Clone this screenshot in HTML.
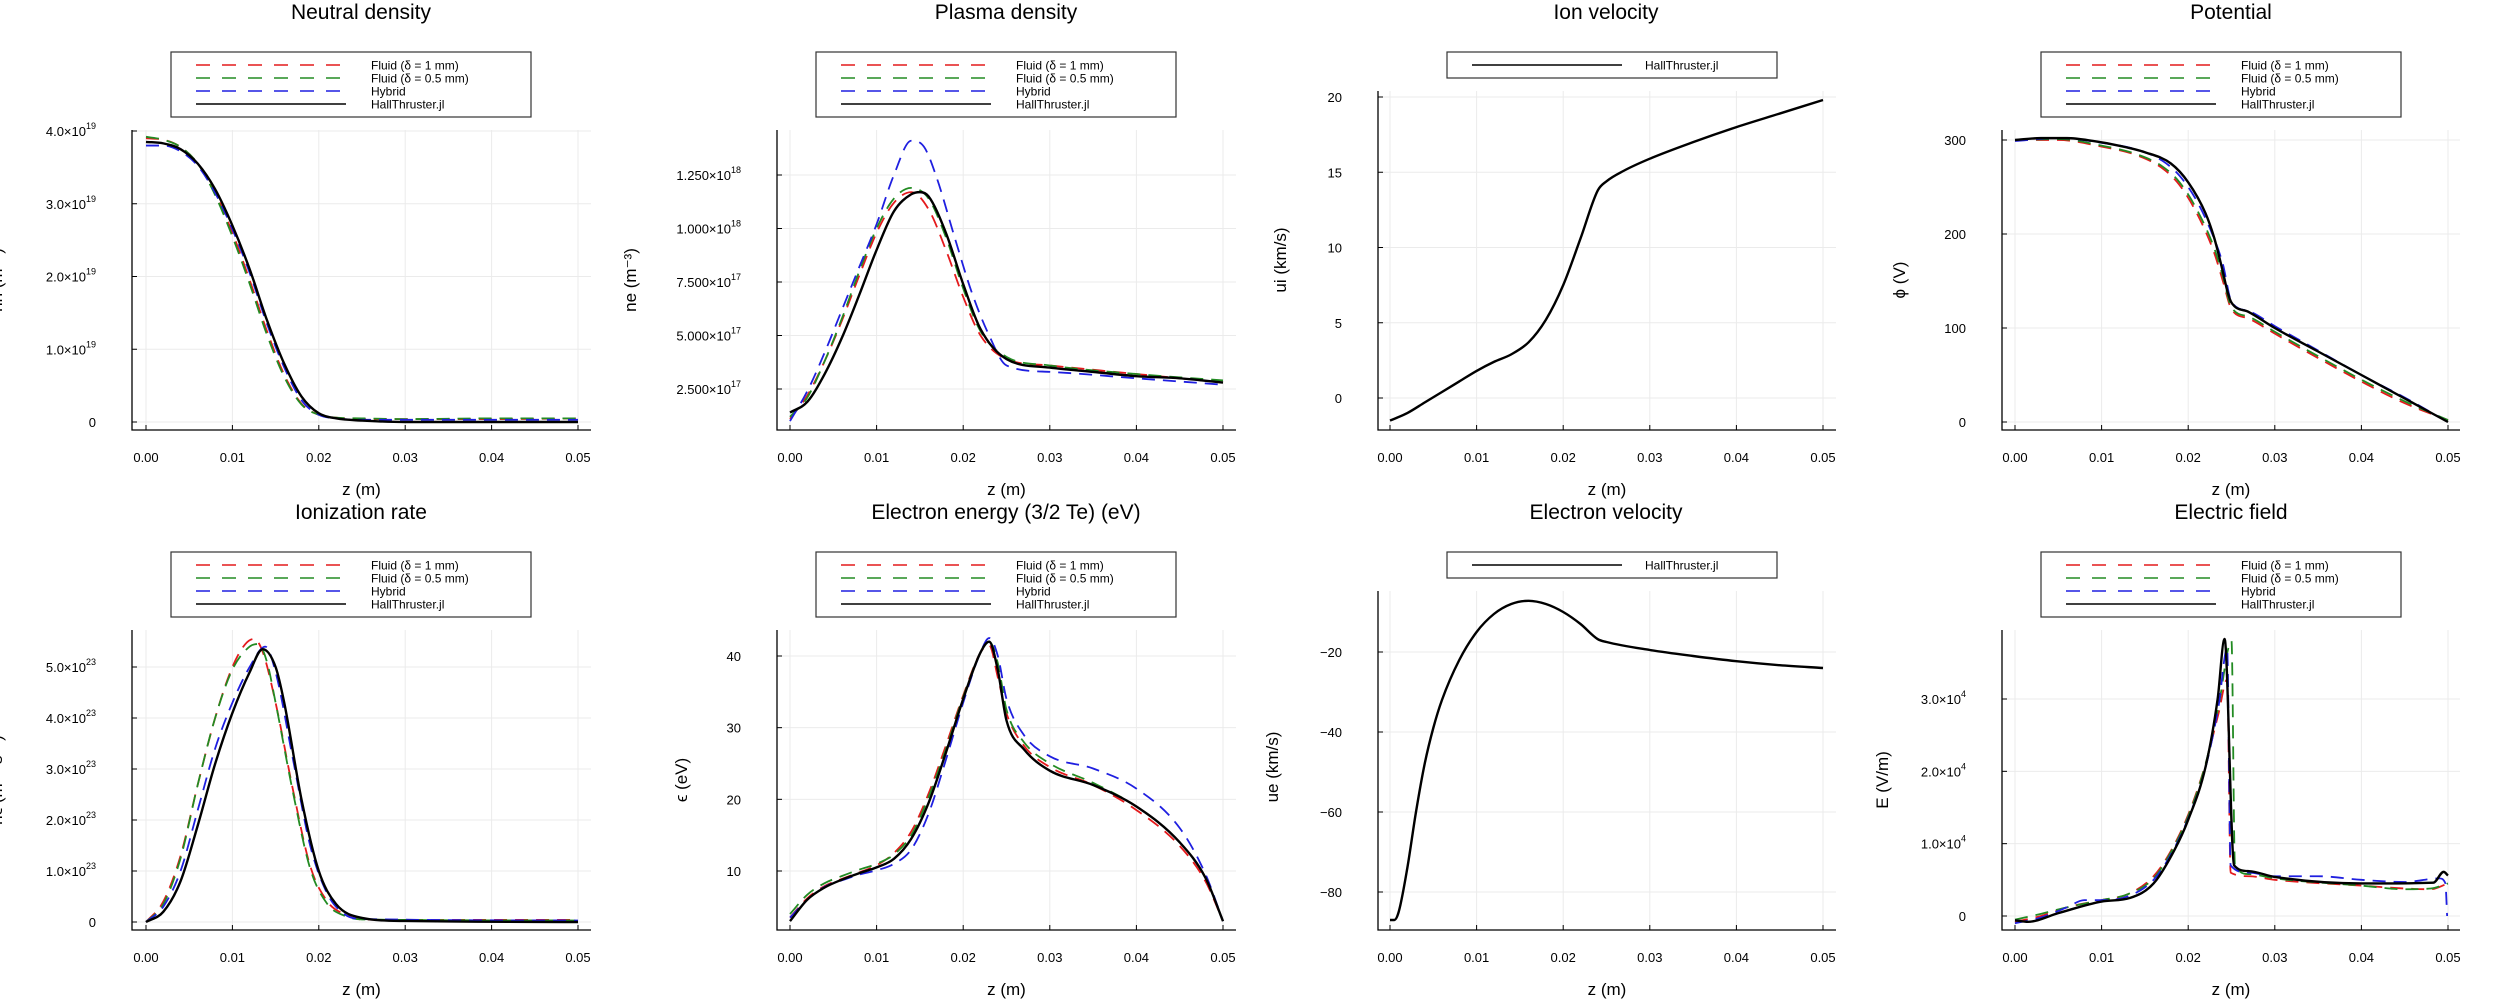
<!DOCTYPE html>
<html><head><meta charset="utf-8">
<style>
html,body{margin:0;padding:0;background:#fff;}
svg{display:block;font-family:"Liberation Sans","DejaVu Sans",sans-serif;}
</style></head>
<body>
<svg id="fig" width="2500" height="1000" viewBox="0 0 2500 1000" xmlns="http://www.w3.org/2000/svg"></svg>
<script>
// ---------- Data (z in m) ----------
// Panel 1: Neutral density (x1e19 m^-3)
const nnHallZ=[0,.002,.004,.006,.008,.010,.012,.014,.016,.018,.020,.022,.025,.030,.050];
const nnHallV=[3.85,3.83,3.75,3.55,3.2,2.7,2.1,1.4,0.8,0.35,0.12,0.05,0.02,0.0,0.0];
const nnF1Z=[0,.002,.004,.006,.008,.010,.012,.014,.016,.018,.020,.022,.025,.030,.040,.050];
const nnF1V=[3.9,3.88,3.78,3.55,3.15,2.6,1.95,1.25,0.65,0.25,0.1,0.06,0.04,0.04,0.04,0.05];
const nnF2Z=[0,.002,.004,.006,.008,.010,.012,.014,.016,.018,.020,.022,.025,.030,.040,.050];
const nnF2V=[3.92,3.88,3.78,3.55,3.12,2.55,1.9,1.2,0.62,0.24,0.1,0.06,0.05,0.04,0.05,0.05];
const nnHybZ=[0,.002,.004,.006,.008,.010,.012,.014,.016,.018,.020,.022,.025,.050];
const nnHybV=[3.8,3.8,3.72,3.52,3.15,2.65,2.05,1.35,0.75,0.3,0.1,0.05,0.03,0.03];
// Panel 2: Plasma density (x1e17 m^-3)
const neHallZ=[0,.002,.004,.006,.008,.010,.012,.014,.015,.016,.018,.020,.022,.025,.030,.035,.040,.045,.050];
const neHallV=[1.4,1.9,3.2,4.9,6.9,9.0,10.8,11.6,11.7,11.5,9.8,7.4,5.3,3.9,3.5,3.3,3.1,3.0,2.8];
const neF1Z=[0,.002,.004,.006,.008,.010,.012,.014,.016,.018,.020,.022,.025,.030,.040,.050];
const neF1V=[1.1,2.2,3.8,5.7,7.8,9.8,11.2,11.7,10.9,9.0,6.8,5.0,3.9,3.6,3.2,2.8];
const neF2Z=[0,.002,.004,.006,.008,.010,.012,.014,.016,.018,.020,.022,.025,.030,.040,.050];
const neF2V=[1.2,2.1,3.8,5.8,8.0,10.0,11.4,11.9,11.4,9.6,7.2,5.2,4.0,3.6,3.2,2.9];
const neHybZ=[0,.002,.004,.006,.008,.010,.012,.014,.0155,.017,.019,.021,.023,.025,.030,.040,.050];
const neHybV=[1.0,2.4,4.2,6.2,8.2,10.2,12.5,14.1,13.8,12.3,9.6,7.0,5.0,3.6,3.3,3.0,2.7];
// Panel 3: Ion velocity (km/s)
const uiZ=[0,.002,.004,.006,.008,.010,.012,.014,.016,.018,.020,.022,.024,.025,.027,.030,.035,.040,.045,.050];
const uiV=[-1.5,-1.0,-0.3,0.4,1.1,1.8,2.4,2.9,3.7,5.2,7.5,10.6,13.8,14.4,15.1,15.9,17.0,18.0,18.9,19.8];
// Panel 4: Potential (V)
const phiHallZ=[0,.003,.006,.009,.012,.015,.018,.020,.022,.023,.024,.0245,.025,.027,.030,.035,.040,.045,.050];
const phiHallV=[300,302,302,299,294,287,275,255,222,196,160,140,127,117,100,75,50,25,0];
const phiF1Z=[0,.005,.010,.014,.017,.019,.021,.023,.024,.025,.027,.030,.035,.040,.045,.050];
const phiF1V=[300,300,293,284,270,252,222,180,150,120,110,94,68,43,20,2];
const phiF2Z=[0,.005,.010,.014,.017,.019,.021,.023,.024,.025,.027,.030,.035,.040,.045,.050];
const phiF2V=[300,301,294,285,272,255,226,185,155,122,112,96,70,45,22,2];
const phiHybZ=[0,.005,.010,.014,.017,.019,.021,.023,.024,.025,.027,.030,.035,.040,.045,.050];
const phiHybV=[299,302,297,290,278,262,235,195,168,128,118,102,76,50,26,0];
// Panel 5: Ionization rate (x1e23)
const izHallZ=[0,.002,.004,.006,.008,.010,.012,.0135,.015,.016,.018,.020,.022,.025,.030,.050];
const izHallV=[0,0.2,0.8,1.9,3.1,4.1,4.9,5.35,5.0,4.3,2.4,1.0,0.35,0.08,0.02,0.0];
const izF1Z=[0,.002,.004,.006,.008,.010,.0115,.0125,.0135,.015,.017,.019,.021,.023,.025,.030,.050];
const izF1V=[0,0.4,1.3,2.7,4.0,5.0,5.45,5.55,5.3,4.3,2.6,1.1,0.4,0.15,0.05,0.04,0.04];
const izF2Z=[0,.002,.004,.006,.008,.010,.012,.013,.014,.015,.017,.019,.021,.023,.025,.050];
const izF2V=[0,0.35,1.25,2.7,4.0,4.95,5.4,5.45,5.1,4.3,2.55,1.05,0.35,0.12,0.05,0.03];
const izHybZ=[0,.002,.004,.006,.008,.010,.012,.0138,.015,.017,.019,.021,.023,.025,.050];
const izHybV=[0,0.3,1.0,2.2,3.4,4.3,5.0,5.4,4.9,3.2,1.5,0.55,0.15,0.06,0.03];
// Panel 6: Electron energy (eV)
const enZ=[0,.002,.004,.006,.008,.010,.012,.014,.016,.018,.020,.022,.023,.024,.025,.027,.030,.035,.040,.045,.048,.050];
const enHallV=[3,6,7.7,8.8,9.7,10.5,11.7,14.5,19.5,26.5,34,40.5,42,38,31,27,24,22,19,14,9,3];
const enF1V=[3.5,6.2,7.9,8.9,9.8,10.8,12.5,15.5,20.8,27.5,34.5,40.5,41.5,37,32,27.5,24.5,22,18.5,13.5,8.5,3];
const enF2V=[4,6.7,8.3,9.3,10.2,11,12.3,15,20.3,27,34.3,40.5,42,39,32.5,28,25,22.3,19,14,9,3];
const enHybV=[3.5,6,7.8,8.7,9.5,10.1,11,13,18,25.5,33.5,40.5,42.5,40,34,29,26,24.3,21.5,16,9.5,3];
// Panel 7: Electron velocity (km/s)
const ueZ=[0,.0005,.001,.002,.003,.004,.005,.006,.008,.010,.012,.014,.016,.018,.020,.022,.024,.025,.030,.035,.040,.045,.050];
const ueV=[-87,-87,-85,-74,-60,-48,-39,-32,-22,-15,-10.5,-8,-7.2,-8,-10,-13,-16.8,-17.5,-19.5,-21,-22.3,-23.3,-24];
// Panel 8: Electric field (x1e4 V/m)
const efHallZ=[0,.0015,.005,.010,.0133,.016,.0184,.020,.022,.0234,.0242,.0253,.027,.030,.040,.0483,.0495,.050];
const efHallV=[-0.06,-0.08,0.04,0.2,0.25,0.45,0.91,1.33,2.06,3.0,3.83,0.7,0.62,0.54,0.45,0.46,0.61,0.56];
const efF1Z=[0,.003,.006,.010,.013,.016,.018,.020,.022,.0235,.0245,.0249,.027,.030,.040,.045,.048,.050];
const efF1V=[-0.08,0.0,0.12,0.22,0.3,0.55,0.9,1.4,2.1,2.8,3.27,0.6,0.55,0.5,0.42,0.38,0.37,0.45];
const efF2Z=[0,.003,.006,.010,.013,.016,.018,.020,.022,.0235,.0250,.0254,.027,.030,.040,.045,.048,.050];
const efF2V=[-0.05,0.03,0.12,0.22,0.3,0.52,0.88,1.38,2.1,2.9,3.8,0.7,0.58,0.52,0.42,0.37,0.38,0.45];
const efHybZ=[0,.003,.006,.008,.010,.013,.016,.018,.020,.022,.0235,.0245,.0249,.027,.030,.035,.040,.045,.049,.0497,.0499];
const efHybV=[-0.1,-0.02,0.12,0.22,0.22,0.27,0.5,0.85,1.35,2.05,2.9,3.7,0.7,0.6,0.55,0.55,0.5,0.47,0.52,0.45,0.0];

// ---------- Tick arrays ----------
const xTicks=[0,0.01,0.02,0.03,0.04,0.05];
const xTickLabels=["0.00","0.01","0.02","0.03","0.04","0.05"];
const nnTicks=[0,1,2,3,4]; const nnTickM=["0","1.0×10","2.0×10","3.0×10","4.0×10"]; const nnTickE=["","19","19","19","19"];
const neTicks=[2.5,5,7.5,10,12.5]; const neTickM=["2.500×10","5.000×10","7.500×10","1.000×10","1.250×10"]; const neTickE=["17","17","17","18","18"];
const uiTicks=[0,5,10,15,20]; const uiTickM=["0","5","10","15","20"]; const uiTickE=["","","","",""];
const phiTicks=[0,100,200,300]; const phiTickM=["0","100","200","300"]; const phiTickE=["","","",""];
const izTicks=[0,1,2,3,4,5]; const izTickM=["0","1.0×10","2.0×10","3.0×10","4.0×10","5.0×10"]; const izTickE=["","23","23","23","23","23"];
const enTicks=[10,20,30,40]; const enTickM=["10","20","30","40"]; const enTickE=["","","",""];
const ueTicks=[-80,-60,-40,-20]; const ueTickM=["−80","−60","−40","−20"]; const ueTickE=["","","",""];
const efTicks=[0,1,2,3]; const efTickM=["0","1.0×10","2.0×10","3.0×10"]; const efTickE=["","4","4","4"];

const legendNames=["Fluid (δ = 1 mm)","Fluid (δ = 0.5 mm)","Hybrid","HallThruster.jl"];
const COLORS={f1:"#e41a1c",f2:"#228b22",hyb:"#1f1fe0",hall:"#000"};

const NS="http://www.w3.org/2000/svg";
const svg=document.getElementById('fig');
function mk(tag,attrs,parent){const e=document.createElementNS(NS,tag);for(const k in attrs)e.setAttribute(k,attrs[k]);(parent||svg).appendChild(e);return e;}

function monoPath(px,py){
  const n=px.length; if(n<2)return "";
  const d=[],m=[];
  for(let i=0;i<n-1;i++)d.push((py[i+1]-py[i])/((px[i+1]-px[i])||1e-9));
  m[0]=d[0];m[n-1]=d[n-2];
  for(let i=1;i<n-1;i++){ if(d[i-1]*d[i]<=0)m[i]=0; else m[i]=(d[i-1]+d[i])/2; }
  for(let i=0;i<n-1;i++){ if(d[i]===0){m[i]=0;m[i+1]=0;continue;} const a=m[i]/d[i],b=m[i+1]/d[i]; const s=a*a+b*b; if(s>9){const t=3/Math.sqrt(s);m[i]=t*a*d[i];m[i+1]=t*b*d[i];} }
  let p="M"+px[0].toFixed(2)+","+py[0].toFixed(2);
  for(let i=0;i<n-1;i++){const h=px[i+1]-px[i];
    p+=" C"+(px[i]+h/3).toFixed(2)+","+(py[i]+m[i]*h/3).toFixed(2)+" "+(px[i+1]-h/3).toFixed(2)+","+(py[i+1]-m[i+1]*h/3).toFixed(2)+" "+px[i+1].toFixed(2)+","+py[i+1].toFixed(2);}
  return p;
}

function panel(cfg){
  const g=mk('g',{});
  
  
  const sx=v=>cfg.x0+(v-0)*(cfg.x1-cfg.x0)/0.05;
  const sy=v=>cfg.p1+(v-cfg.v1)*(cfg.p2-cfg.p1)/(cfg.v2-cfg.v1);
  const t=mk('text',{x:cfg.tx,y:cfg.ty,'font-size':21,'text-anchor':'middle',fill:'#000'},g);t.textContent=cfg.title;
  
  
  xTicks.forEach(v=>{const l=mk('line',{x1:sx(v),x2:sx(v),y1:cfg.t,y2:cfg.b,stroke:'#ebebeb','stroke-width':1},g);
    
    });
  cfg.yt.forEach(v=>{const l=mk('line',{x1:cfg.l,x2:cfg.r,y1:sy(v),y2:sy(v),stroke:'#ebebeb','stroke-width':1},g);
    
    });
  const ax=mk('path',{d:`M${cfg.l},${cfg.t} L${cfg.l},${cfg.b} L${cfg.r},${cfg.b}`,fill:'none',stroke:'#000','stroke-width':1.3},g);
  
  
  xTicks.forEach((v,i)=>{mk('line',{x1:sx(v),x2:sx(v),y1:cfg.b,y2:cfg.b-5,stroke:'#000','stroke-width':1},g);
    const tl=mk('text',{x:sx(v),y:cfg.b+32,'font-size':13,'text-anchor':'middle',fill:'#000'},g);tl.textContent=xTickLabels[i];
    
    });
  cfg.yt.forEach((v,i)=>{mk('line',{x1:cfg.l,x2:cfg.l+5,y1:sy(v),y2:sy(v),stroke:'#000','stroke-width':1},g);
    const tl=mk('text',{x:cfg.l-36,y:sy(v)+5,'font-size':13,'text-anchor':'end',fill:'#000'},g);
    
    
    const ts=mk('tspan',{},tl);ts.textContent=cfg.ym[i];
    if(cfg.ye[i]){const sup=mk('tspan',{dy:-7,'font-size':9},tl);sup.textContent=cfg.ye[i];}
  });
  const xl=mk('text',{x:(cfg.l+cfg.r)/2,y:cfg.b+65,'font-size':17,'text-anchor':'middle',fill:'#000'},g);xl.textContent="z (m)";
  
  
  const yl=mk('text',{x:0,y:0,'font-size':17,'text-anchor':'middle',fill:'#000',transform:`translate(${cfg.ylx},${cfg.yly}) rotate(-90)`},g);yl.textContent=cfg.ylabel;
  
  
  cfg.series.forEach(s=>{
    const p=mk('path',{d:monoPath(s.z.map(sx),s.v.map(sy)),fill:'none',stroke:COLORS[s.c],'stroke-width':s.c==='hall'?2.4:1.8,'stroke-dasharray':s.c==='hall'?'none':'13 8','stroke-linejoin':'round'},g);
    
    
  });
  const lg=mk('g',{},g);
  
  
  const keys=cfg.single?['hall']:['f1','f2','hyb','hall'];
  const lh=cfg.single?26:65;
  mk('rect',{x:cfg.lgx,y:cfg.lgy,width:cfg.lgw,height:lh,fill:'#fff',stroke:'#333','stroke-width':1.2},lg);
  keys.forEach((k,i)=>{const yy=cfg.lgy+13+i*13;
    const e=mk('g',{},lg);
    
    
    mk('line',{x1:cfg.lgx+25,x2:cfg.lgx+175,y1:yy,y2:yy,stroke:COLORS[k],'stroke-width':1.5,'stroke-dasharray':k==='hall'?'none':'14 12'},e);
    const tt=mk('text',{x:cfg.lgx+(cfg.single?198:200),y:yy+4.5,'font-size':12,fill:'#000'},e);tt.textContent=cfg.single?"HallThruster.jl":legendNames[i];});
}

const C=[{l:132,r:591,x0:146,x1:578,lgx:171,lgw:360,tx:361},{l:777,r:1236,x0:790,x1:1223,lgx:816,lgw:360,tx:1006},
         {l:1378,r:1836,x0:1390,x1:1823,lgx:1447,lgw:330,tx:1606},{l:2002,r:2460,x0:2015,x1:2448,lgx:2041,lgw:360,tx:2231}];
function S(f1z,f1v,f2z,f2v,hz,hv,az,av){return [{c:'f1',z:f1z,v:f1v},{c:'f2',z:f2z,v:f2v},{c:'hyb',z:hz,v:hv},{c:'hall',z:az,v:av}];}
const panels=[
 Object.assign({},C[0],{name:'neutral-density-panel',title:'Neutral density',t:130,b:430,ty:19,lgy:52,v1:0,p1:422,v2:4,p2:131,yt:nnTicks,ym:nnTickM,ye:nnTickE,ylabel:'nn (m⁻³)',ylx:2,yly:280,series:S(nnF1Z,nnF1V,nnF2Z,nnF2V,nnHybZ,nnHybV,nnHallZ,nnHallV)}),
 Object.assign({},C[1],{name:'plasma-density-panel',title:'Plasma density',t:130,b:430,ty:19,lgy:52,v1:2.5,p1:389,v2:12.5,p2:175,yt:neTicks,ym:neTickM,ye:neTickE,ylabel:'ne (m⁻³)',ylx:636,yly:280,series:S(neF1Z,neF1V,neF2Z,neF2V,neHybZ,neHybV,neHallZ,neHallV)}),
 Object.assign({},C[2],{name:'ion-velocity-panel',title:'Ion velocity',t:91,b:430,ty:19,lgy:52,single:true,v1:0,p1:398,v2:20,p2:97,yt:uiTicks,ym:uiTickM,ye:uiTickE,ylabel:'ui (km/s)',ylx:1286,yly:260,series:[{c:'hall',z:uiZ,v:uiV}]}),
 Object.assign({},C[3],{name:'potential-panel',title:'Potential',t:130,b:430,ty:19,lgy:52,v1:0,p1:422,v2:300,p2:140,yt:phiTicks,ym:phiTickM,ye:phiTickE,ylabel:'ϕ (V)',ylx:1905,yly:280,series:S(phiF1Z,phiF1V,phiF2Z,phiF2V,phiHybZ,phiHybV,phiHallZ,phiHallV)}),
 Object.assign({},C[0],{name:'ionization-rate-panel',title:'Ionization rate',t:630,b:930,ty:519,lgy:552,v1:0,p1:922,v2:5,p2:667,yt:izTicks,ym:izTickM,ye:izTickE,ylabel:'nϵ (m⁻³ s⁻¹)',ylx:2,yly:780,series:S(izF1Z,izF1V,izF2Z,izF2V,izHybZ,izHybV,izHallZ,izHallV)}),
 Object.assign({},C[1],{name:'electron-energy-panel',title:'Electron energy (3/2 Te) (eV)',t:630,b:930,ty:519,lgy:552,v1:10,p1:871,v2:40,p2:656,yt:enTicks,ym:enTickM,ye:enTickE,ylabel:'ϵ (eV)',ylx:687,yly:780,series:S(enZ,enF1V,enZ,enF2V,enZ,enHybV,enZ,enHallV)}),
 Object.assign({},C[2],{name:'electron-velocity-panel',title:'Electron velocity',t:591,b:930,ty:519,lgy:552,single:true,v1:-20,p1:652,v2:-80,p2:892,yt:ueTicks,ym:ueTickM,ye:ueTickE,ylabel:'ue (km/s)',ylx:1278,yly:767,series:[{c:'hall',z:ueZ,v:ueV}]}),
 Object.assign({},C[3],{name:'electric-field-panel',title:'Electric field',t:630,b:930,ty:519,lgy:552,v1:0,p1:916,v2:3,p2:699,yt:efTicks,ym:efTickM,ye:efTickE,ylabel:'E (V/m)',ylx:1888,yly:780,series:S(efF1Z,efF1V,efF2Z,efF2V,efHybZ,efHybV,efHallZ,efHallV)})
];
panels.forEach(panel);
</script>
</body></html>
